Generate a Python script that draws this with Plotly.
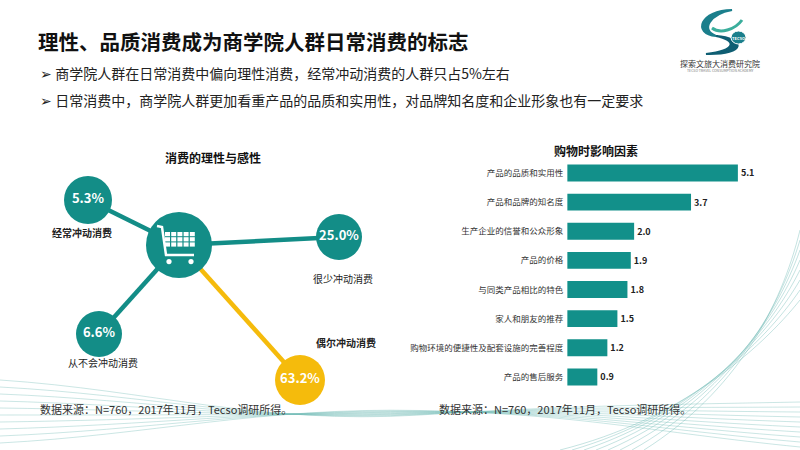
import plotly.graph_objects as go

FONT = "Noto Sans CJK SC, Noto Sans, sans-serif"
TEAL = "#138D87"
YELLOW = "#F5BB0C"

# left chart: share of impulse buying
impulse_labels = ["经常冲动消费", "很少冲动消费", "从不会冲动消费", "偶尔冲动消费"]
impulse_values = [5.3, 25.0, 6.6, 63.2]

# right chart: factors when shopping
factor_labels = [
    "产品的品质和实用性",
    "产品和品牌的知名度",
    "生产企业的信誉和公众形象",
    "产品的价格",
    "与同类产品相比的特色",
    "家人和朋友的推荐",
    "购物环境的便捷性及配套设施的完善程度",
    "产品的售后服务",
]
factor_values = [5.1, 3.7, 2.0, 1.9, 1.8, 1.5, 1.2, 0.9]

source_note = "数据来源：N=760，2017年11月，Tecso调研所得。"

# layout of the bubble diagram (pixels on the canvas axis)
hub = (179, 245)
bubble_x = [88, 339, 99, 300]
bubble_y = [200, 237, 334, 380]
bubble_size = [48, 46, 46, 50]
bubble_color = [TEAL, TEAL, TEAL, YELLOW]
label_pos = [(82, 232), (343, 278), (103, 362), (346, 342)]
label_bold = [True, False, False, True]

fig = go.Figure()

# spokes
for bx, by, col in zip(bubble_x, bubble_y, bubble_color):
    fig.add_trace(go.Scatter(
        x=[hub[0], bx], y=[hub[1], by], mode="lines",
        line=dict(color=col, width=4.5), hoverinfo="skip", showlegend=False,
    ))

# hub circle
fig.add_trace(go.Scatter(
    x=[hub[0]], y=[hub[1]], mode="markers",
    marker=dict(size=66, color=TEAL, opacity=1, line=dict(width=0)),
    hoverinfo="skip", showlegend=False,
))

fig.add_trace(go.Scatter(
    x=bubble_x, y=bubble_y, mode="markers+text",
    marker=dict(size=bubble_size, color=bubble_color, opacity=1, line=dict(width=0)),
    text=[f"{v:.1f}%" for v in impulse_values],
    textfont=dict(family=FONT, size=13, color="white", weight="bold"),
    textposition="middle center",
    customdata=impulse_labels, hovertemplate="%{customdata}: %{text}<extra></extra>",
    showlegend=False,
))

fig.add_trace(go.Bar(
    x=factor_values, y=factor_labels, orientation="h",
    xaxis="x2", yaxis="y2", width=0.58,
    marker=dict(color="#12908A", line=dict(width=0)),
    texttemplate="<b>%{x:.1f}</b>", textposition="outside",
    textfont=dict(family=FONT, size=9, color="#222"),
    cliponaxis=False, showlegend=False,
))

shapes = []

# faint background waves
for i in range(10):
    shapes.append(dict(
        type="path", xref="x", yref="y", layer="below",
        path=f"M 0 {380 + i * 7} C 150 {390 + i * 5}, 260 {425 - i * 2}, 420 {415 - i * 0.5} "
             f"S 650 {405 + i * 3}, 800 {402 + i * 5}",
        line=dict(color="rgba(110,185,180,0.45)", width=0.8),
    ))
for i in range(8):
    shapes.append(dict(
        type="path", xref="x", yref="y", layer="below",
        path=f"M {560 + i * 12} 450 C {680 + i * 8} {420 - i * 4}, {760 + i * 3} {350 - i * 6}, 800 {300 - i * 10}",
        line=dict(color="rgba(110,185,180,0.5)", width=0.8),
    ))

# cart icon
shapes.append(dict(type="path", xref="x", yref="y",
                   path="M 157 226 L 162 227 L 166 255 L 194 255",
                   line=dict(color="white", width=2.5)))
for c in range(5):
    for r in range(3):
        x0 = 165 + c * 6.2
        y0 = 232 + r * 5.2
        shapes.append(dict(type="rect", xref="x", yref="y",
                           x0=x0, x1=x0 + 5, y0=y0, y1=y0 + 4.2,
                           fillcolor="white", line=dict(width=0)))
for wx in (169, 191):
    shapes.append(dict(type="circle", xref="x", yref="y",
                       x0=wx - 2.6, x1=wx + 2.6, y0=259, y1=264.2,
                       fillcolor="white", line=dict(width=0)))

# logo swirl
shapes.append(dict(type="path", xref="x", yref="y",
                   path="M 732 10 C 700 10, 692 34, 716 36 C 700 30, 710 14, 732 10 Z",
                   fillcolor="#1B7F8C", line=dict(color="#1B7F8C", width=2)))
shapes.append(dict(type="path", xref="x", yref="y",
                   path="M 716 36 C 745 38, 748 55, 706 54 C 738 50, 736 40, 716 36 Z",
                   fillcolor="#0F5E73", line=dict(color="#0F5E73", width=2)))
shapes.append(dict(type="path", xref="x", yref="y",
                   path="M 712 28 C 720 34, 735 30, 742 20",
                   line=dict(color="#3BAE9C", width=3)))
shapes.append(dict(type="circle", xref="x", yref="y",
                   x0=731, x1=746, y0=31, y1=44,
                   fillcolor="#1B7F8C", line=dict(color="white", width=1)))

annotations = []


def note(text, x, y, size, color="#222", bold=False, xanchor="center", family=FONT):
    annotations.append(dict(
        text=text, x=x, y=y, xref="x", yref="y", showarrow=False,
        xanchor=xanchor, yanchor="middle",
        font=dict(family=family, size=size, color=color, weight="bold" if bold else "normal"),
    ))


note("理性、品质消费成为商学院人群日常消费的标志", 36, 41, 20.5, "#111", True, "left")
note("➢ 商学院人群在日常消费中偏向理性消费，经常冲动消费的人群只占5%左右", 38, 73, 14, "#222", False, "left")
note("➢ 日常消费中，商学院人群更加看重产品的品质和实用性，对品牌知名度和企业形象也有一定要求", 38, 100, 14, "#222", False, "left")
note("消费的理性与感性", 213, 157, 12, "#111", True)
note("购物时影响因素", 596, 150, 12, "#111", True)
for lab, (lx, ly), b in zip(impulse_labels, label_pos, label_bold):
    note(lab, lx, ly, 10, "#222", b)
note(source_note, 38, 409, 11, "#333", False, "left")
note(source_note, 437, 409, 11, "#333", False, "left")
note("TECSO", 738.5, 37.5, 4, "white", True)
note("探索文旅大消费研究院", 720, 63, 8, "#333")
note("TECSO TRAVEL CONSUMPTION ACADEMY", 720, 70, 3.5, "#777")

fig.update_layout(
    width=800, height=450,
    margin=dict(l=0, r=0, t=0, b=0),
    paper_bgcolor="white", plot_bgcolor="rgba(0,0,0,0)",
    xaxis=dict(domain=[0, 1], range=[0, 800], visible=False, fixedrange=True),
    yaxis=dict(domain=[0, 1], range=[450, 0], visible=False, fixedrange=True),
    xaxis2=dict(domain=[0.709, 0.96], range=[0, 6], anchor="y2", visible=False, fixedrange=True),
    yaxis2=dict(domain=[0.130, 0.648], anchor="x2", autorange="reversed",
                showgrid=False, showline=False, ticks="", ticklabelstandoff=3,
                tickfont=dict(family=FONT, size=8.5, color="#333"), fixedrange=True),
    shapes=shapes, annotations=annotations,
    font=dict(family=FONT),
)

# drop the default page margin so the 800x450 figure fills the window
fig.write_html(
    "out.html",
    config={"displayModeBar": False},
    post_script="document.body.style.margin='0';",
)
